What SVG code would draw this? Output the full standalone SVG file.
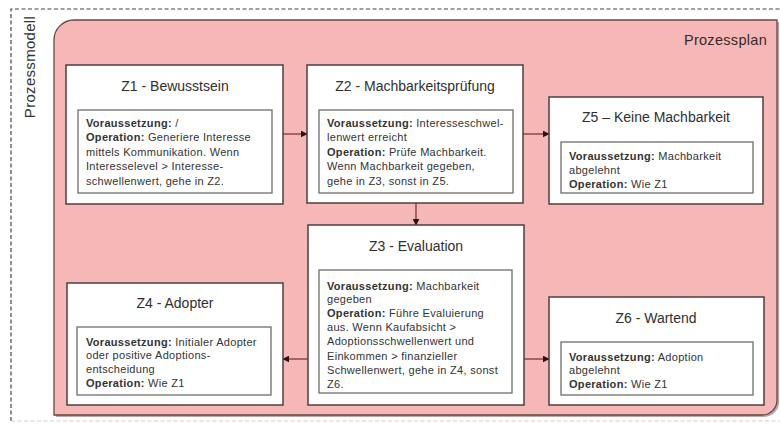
<svg xmlns="http://www.w3.org/2000/svg" width="780" height="425" viewBox="0 0 780 425">
<defs>
<style>
.node{fill:#ffffff;stroke:#4f3e3e;stroke-width:1.5}
.inner{fill:#ffffff;stroke:#6e6e6e;stroke-width:1.3}
.title{font-family:"Liberation Sans",Arial,sans-serif;font-size:14px;fill:#2f2f2f;text-anchor:middle}
.body{font-family:"Liberation Sans",Arial,sans-serif;font-size:11px;letter-spacing:0.3px;fill:#333333}
.b{font-weight:bold}
.conn{stroke:#7a3838;stroke-width:1.3;fill:none;marker-end:url(#ah)}
</style>
<marker id="ah" viewBox="0 0 10 10" refX="9" refY="5" markerWidth="7" markerHeight="7" markerUnits="userSpaceOnUse" orient="auto">
<path d="M0,0 L10,5 L0,10 Z" fill="#2a1414"/>
</marker>
</defs>
<rect width="780" height="425" fill="#ffffff"/>
<g id="prozessmodell">
<path d="M11,421 V9 H790" fill="none" stroke="#444" stroke-width="1.2" stroke-dasharray="4,2.5"/>
<path d="M11,421 H790" fill="none" stroke="#cfcfcf" stroke-width="1" stroke-dasharray="4,2.5"/>
<text transform="translate(35,67) rotate(-90)" font-family="Liberation Sans, Arial, sans-serif" font-size="15" fill="#333" text-anchor="middle" letter-spacing="0.3">Prozessmodell</text>
</g>
<g id="prozessplan">
<path d="M56,42 A22,22 0 0 1 78,22 H779 V402 A15,15 0 0 1 764,417 H56 Z" fill="#7a5050" opacity="0.5"/>
<path d="M54,40 A20,20 0 0 1 74,20 H777 V400 A15,15 0 0 1 762,415 H54 Z" fill="#f5b8b6" stroke="#6a4646" stroke-width="1.3"/>
<text x="767" y="45" font-family="Liberation Sans, Arial, sans-serif" font-size="14.5" fill="#3a2828" text-anchor="end" letter-spacing="0.3">Prozessplan</text>
</g>
<g id="connectors">
<line class="conn" x1="283" y1="134" x2="307" y2="134"/>
<line class="conn" x1="523" y1="134" x2="549" y2="134"/>
<line class="conn" x1="416" y1="203" x2="416" y2="225"/>
<line class="conn" x1="308" y1="359" x2="283" y2="359"/>
<line class="conn" x1="524" y1="359" x2="549" y2="359"/>
</g>
<g id="z1">
<rect class="node" x="66" y="65" width="217" height="139"/>
<text class="title" x="175" y="91">Z1 - Bewusstsein</text>
<rect class="inner" x="78" y="110" width="194" height="83"/>
<text class="body" x="86" y="127"><tspan class="b">Voraussetzung:</tspan> /</text>
<text class="body" x="86" y="141"><tspan class="b">Operation:</tspan> Generiere Interesse</text>
<text class="body" x="86" y="156">mittels Kommunikation. Wenn</text>
<text class="body" x="86" y="170">Interesselevel &gt; Interesse-</text>
<text class="body" x="86" y="185">schwellenwert, gehe in Z2.</text>
</g>
<g id="z2">
<rect class="node" x="307" y="65" width="216" height="138"/>
<text class="title" x="415" y="91">Z2 - Machbarkeitsprüfung</text>
<rect class="inner" x="319" y="110" width="194" height="83"/>
<text class="body" x="327" y="127"><tspan class="b">Voraussetzung:</tspan> Interesseschwel-</text>
<text class="body" x="327" y="141">lenwert erreicht</text>
<text class="body" x="327" y="156"><tspan class="b">Operation:</tspan> Prüfe Machbarkeit.</text>
<text class="body" x="327" y="170">Wenn Machbarkeit gegeben,</text>
<text class="body" x="327" y="185">gehe in Z3, sonst in Z5.</text>
</g>
<g id="z5">
<rect class="node" x="549" y="97" width="214" height="107"/>
<text class="title" x="656" y="122">Z5 – Keine Machbarkeit</text>
<rect class="inner" x="561" y="142" width="192" height="51"/>
<text class="body" x="569" y="160"><tspan class="b">Voraussetzung:</tspan> Machbarkeit</text>
<text class="body" x="569" y="174">abgelehnt</text>
<text class="body" x="569" y="188"><tspan class="b">Operation:</tspan> Wie Z1</text>
</g>
<g id="z3">
<rect class="node" x="308" y="225" width="216" height="180"/>
<text class="title" x="416" y="251">Z3 - Evaluation</text>
<rect class="inner" x="319" y="270" width="193" height="123"/>
<text class="body" x="327" y="290"><tspan class="b">Voraussetzung:</tspan> Machbarkeit</text>
<text class="body" x="327" y="303">gegeben</text>
<text class="body" x="327" y="317"><tspan class="b">Operation:</tspan> Führe Evaluierung</text>
<text class="body" x="327" y="331">aus. Wenn Kaufabsicht &gt;</text>
<text class="body" x="327" y="345">Adoptionsschwellenwert und</text>
<text class="body" x="327" y="360">Einkommen &gt; finanzieller</text>
<text class="body" x="327" y="374">Schwellenwert, gehe in Z4, sonst</text>
<text class="body" x="327" y="388">Z6.</text>
</g>
<g id="z4">
<rect class="node" x="67" y="283" width="216" height="122"/>
<text class="title" x="175" y="308">Z4 - Adopter</text>
<rect class="inner" x="77" y="327" width="194" height="68"/>
<text class="body" x="86" y="346"><tspan class="b">Voraussetzung:</tspan> Initialer Adopter</text>
<text class="body" x="86" y="359">oder positive Adoptions-</text>
<text class="body" x="86" y="373">entscheidung</text>
<text class="body" x="86" y="387"><tspan class="b">Operation:</tspan> Wie Z1</text>
</g>
<g id="z6">
<rect class="node" x="549" y="297" width="215" height="108"/>
<text class="title" x="656" y="323">Z6 - Wartend</text>
<rect class="inner" x="561" y="342" width="192" height="53"/>
<text class="body" x="569" y="361"><tspan class="b">Voraussetzung:</tspan> Adoption</text>
<text class="body" x="569" y="374">abgelehnt</text>
<text class="body" x="569" y="388"><tspan class="b">Operation:</tspan> Wie Z1</text>
</g>
</svg>
